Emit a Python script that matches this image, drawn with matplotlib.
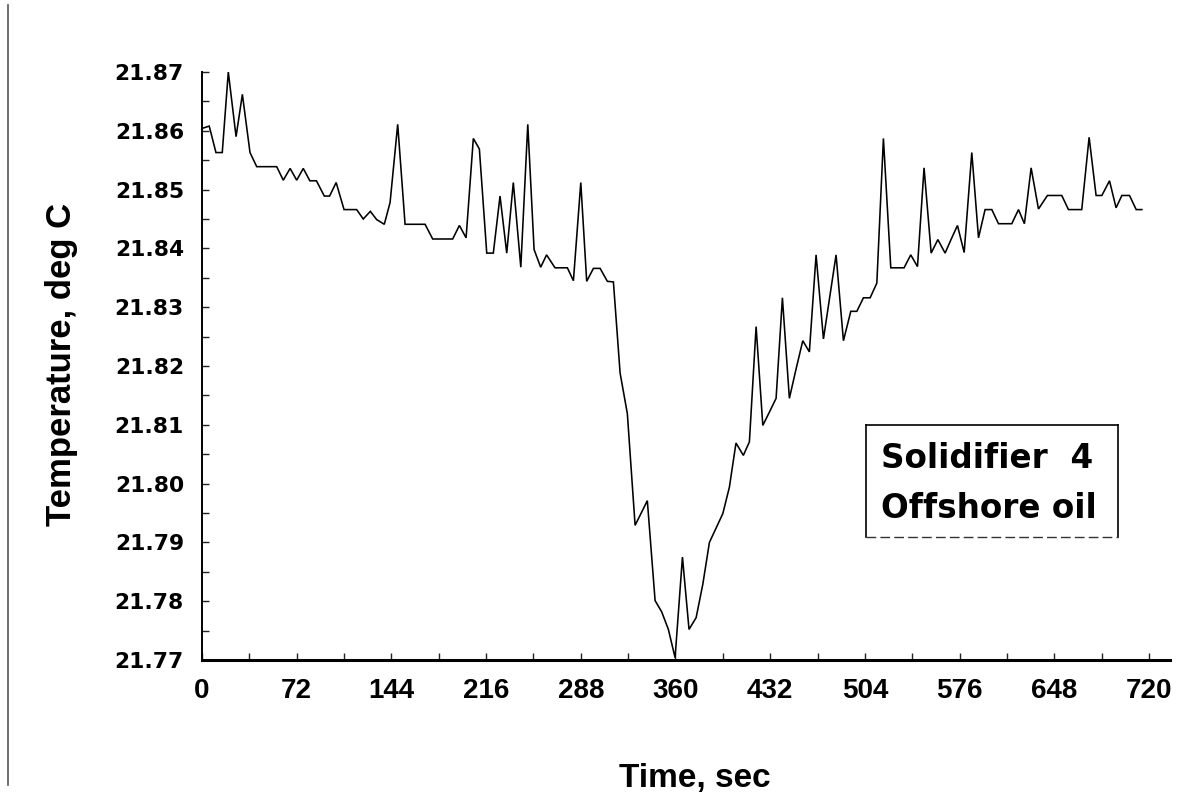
import matplotlib
matplotlib.use("Agg")
import matplotlib.pyplot as plt
from matplotlib.lines import Line2D
from matplotlib.ticker import MultipleLocator, FormatStrFormatter

# Temperature record for the solidifier test
time_s = [
    0.0, 5.5, 10.6, 15.4, 20.0, 25.9, 30.7, 36.5, 41.6, 46.7, 51.8, 56.8,
    61.8, 67.0, 72.0, 77.0, 82.0, 87.0, 93.0, 97.0, 102.0, 108.0, 113.0,
    117.6, 122.6, 128.0, 132.8, 138.6, 143.0, 148.8, 154.4, 159.4, 164.5,
    169.6, 175.4, 180.4, 185.5, 190.6, 195.7, 200.8, 206.3, 210.9, 216.5,
    221.5, 226.6, 231.7, 236.7, 242.4, 247.7, 252.5, 257.5, 262.0, 268.4,
    273.0, 277.8, 282.4, 288.0, 292.5, 297.6, 302.7, 308.2, 312.8, 317.9,
    323.4, 329.3, 338.6, 344.5, 349.5, 354.6, 359.7, 365.3, 370.3, 375.7,
    380.8, 385.8, 391.0, 396.0, 401.0, 406.0, 411.6, 416.2, 421.3, 426.4,
    431.5, 436.5, 441.3, 446.6, 451.7, 456.8, 461.8, 466.9, 472.5, 477.3,
    482.1, 487.7, 493.3, 497.9, 502.9, 508.0, 513.1, 518.1, 523.7, 528.7,
    533.8, 538.9, 544.0, 549.0, 554.4, 559.5, 565.0, 569.7, 574.4, 579.5,
    585.3, 590.4, 595.4, 600.5, 605.6, 610.6, 615.7, 620.8, 625.3, 630.4,
    636.0, 642.8, 648.0, 653.7, 658.8, 663.9, 668.9, 674.5, 679.8, 684.2,
    690.0, 695.0, 699.4, 705.2, 710.3, 714.6,
]
temp_c = [
    21.8604, 21.8608, 21.8563, 21.8563, 21.8700, 21.8590, 21.8662, 21.8563,
    21.8539, 21.8539, 21.8539, 21.8539, 21.8516, 21.8536, 21.8516, 21.8536,
    21.8515, 21.8515, 21.8489, 21.8489, 21.8512, 21.8466, 21.8466, 21.8466,
    21.8450, 21.8463, 21.8449, 21.8441, 21.8478, 21.8611, 21.8441, 21.8441,
    21.8441, 21.8441, 21.8416, 21.8416, 21.8416, 21.8416, 21.8439, 21.8418,
    21.8587, 21.8569, 21.8392, 21.8392, 21.8489, 21.8392, 21.8512, 21.8368,
    21.8611, 21.8398, 21.8368, 21.8389, 21.8367, 21.8367, 21.8367, 21.8345,
    21.8512, 21.8344, 21.8366, 21.8366, 21.8344, 21.8343, 21.8188, 21.8119,
    21.7929, 21.7971, 21.7801, 21.7782, 21.7752, 21.7704, 21.7875, 21.7752,
    21.7772, 21.7829, 21.7900, 21.7925, 21.7949, 21.7994, 21.8069, 21.8048,
    21.8071, 21.8267, 21.8099, 21.8122, 21.8145, 21.8316, 21.8145, 21.8195,
    21.8243, 21.8224, 21.8389, 21.8246, 21.8318, 21.8389, 21.8243, 21.8293,
    21.8293, 21.8316, 21.8316, 21.8341, 21.8587, 21.8367, 21.8367, 21.8367,
    21.8389, 21.8369, 21.8537, 21.8392, 21.8415, 21.8392, 21.8416, 21.8439,
    21.8393, 21.8563, 21.8418, 21.8466, 21.8466, 21.8442, 21.8442, 21.8442,
    21.8466, 21.8442, 21.8537, 21.8467, 21.8490, 21.8490, 21.8490, 21.8466,
    21.8466, 21.8466, 21.8589, 21.8490, 21.8490, 21.8515, 21.8469, 21.8490,
    21.8490, 21.8466, 21.8466,
]
x_ticks = [0, 72, 144, 216, 288, 360, 432, 504, 576, 648, 720]
y_ticks = [21.77, 21.78, 21.79, 21.80, 21.81, 21.82, 21.83, 21.84, 21.85,
           21.86, 21.87]
legend_lines = ["Solidifier  4", "Offshore oil"]

W, H = 1198, 802
fig = plt.figure(figsize=(W / 100, H / 100), dpi=100)
fig.patch.set_facecolor("white")
ax = fig.add_axes([202 / W, 1 - 660 / H, (1170 - 202) / W, (660 - 72) / H])

ax.plot(time_s, temp_c, color="black", lw=1.15, solid_joinstyle="miter")

ax.set_xlim(0, 736)
ax.set_ylim(21.77, 21.87)

for side in ("top", "right"):
    ax.spines[side].set_visible(False)
ax.spines["left"].set_linewidth(1.4)
ax.spines["bottom"].set_linewidth(2.2)

ax.set_xticks(x_ticks)
ax.xaxis.set_minor_locator(MultipleLocator(36))
ax.set_yticks(y_ticks)
ax.yaxis.set_minor_locator(MultipleLocator(0.005))
ax.yaxis.set_major_formatter(FormatStrFormatter("%.2f"))

ax.tick_params(axis="both", which="both", direction="in", length=5, width=1,
               color="#222222")
ax.tick_params(axis="x", which="major", pad=13)
ax.tick_params(axis="y", which="major", pad=13)

for lab in ax.get_xticklabels():
    lab.set_fontfamily("Liberation Sans")
    lab.set_fontweight("bold")
    lab.set_fontsize(20)
for lab in ax.get_yticklabels():
    lab.set_fontfamily("DejaVu Sans")
    lab.set_fontweight("bold")
    lab.set_fontsize(15.7)

ax.set_xlabel("Time, sec", fontfamily="Liberation Sans", fontweight="bold",
              fontsize=24)
ax.set_ylabel("Temperature, deg C", fontfamily="Liberation Sans",
              fontweight="bold", fontsize=25)
ax.xaxis.set_label_coords(0.509, -0.175)
ax.yaxis.set_label_coords(-0.128, 0.502)

# Annotation box
bx0, bx1 = 0.686, 0.946
by0, by1 = 0.209, 0.400
kw = dict(transform=ax.transAxes, color="black", lw=1.2, clip_on=False)
ax.add_line(Line2D([bx0, bx0], [by0, by1], **kw))
ax.add_line(Line2D([bx0, bx1], [by1, by1], **kw))
ax.add_line(Line2D([bx1, bx1], [by0, by1], **kw))
ax.add_line(Line2D([bx0, bx1], [by0, by0], transform=ax.transAxes,
                   color="#333333", lw=1.0, ls=(0, (7, 3)), clip_on=False))
ax.text(0.7015, 0.342, legend_lines[0], transform=ax.transAxes,
        ha="left", va="center", fontfamily="DejaVu Sans", fontweight="bold",
        fontsize=23.5)
ax.text(0.7015, 0.258, legend_lines[1], transform=ax.transAxes,
        ha="left", va="center", fontfamily="DejaVu Sans", fontweight="bold",
        fontsize=23.5)

# Left page edge
fig.add_artist(Line2D([8 / W, 8 / W], [1 - 5 / H, 1 - 785 / H],
                      transform=fig.transFigure, color="#555555", lw=1.2))

fig.savefig("out.png", dpi=100, facecolor="white")
